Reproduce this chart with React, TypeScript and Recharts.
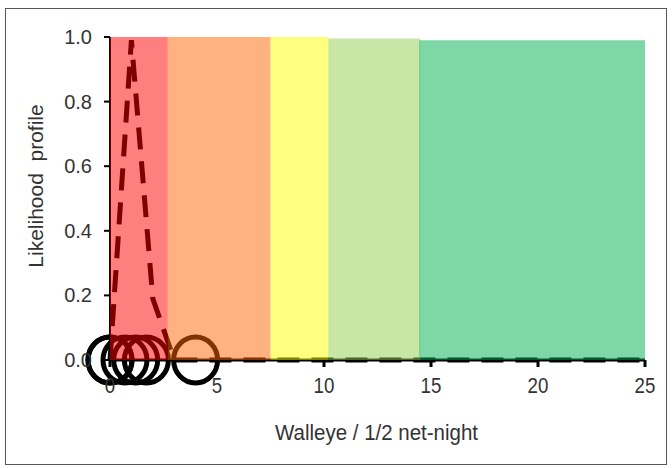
import { ComposedChart, Line, Scatter, XAxis, YAxis, ReferenceArea } from "recharts";

// likelihood profile (dashed line)
const profileX = [0, 1, 2, 3, 4, 5, 10, 15, 20, 25];
const profileY = [0, 0.99, 0.19, 0, 0, 0, 0, 0, 0, 0];

// observed catches (open circles on the x axis)
const obsX = [0, 0, 0.7, 1.2, 1.7, 4];

// status bands
const bandFrom = [0, 2.7, 7.5, 10.2, 14.45];
const bandTo = [2.7, 7.5, 10.2, 14.5, 25];
const bandTop = [1, 1, 1, 0.995, 0.99];
const bandColors = ["#ff0000", "#ff6600", "#ffff00", "#92d050", "#00b050"];

const xTicks = [0, 5, 10, 15, 20, 25];
const yTicks = [0, 0.2, 0.4, 0.6, 0.8, 1];

const font = "'Liberation Sans', Arial, sans-serif";

const lineData = profileX.map((x, i) => ({ x, y: profileY[i] }));
const obsData = obsX.map((x) => ({ x, y: 0 }));

const Ring = (props: any) => (
  <ellipse cx={props.cx} cy={props.cy} rx={22} ry={23} fill="none" stroke="#000" strokeWidth={5} />
);

const XTick = (props: any) => (
  <g transform={`translate(${props.x},${props.y}) scale(0.85,1)`}>
    <text x={0} y={8} textAnchor="middle" fill="#333" fontSize={22} fontFamily={font}>
      {props.payload.value}
    </text>
  </g>
);

const YTick = (props: any) => (
  <text x={92} y={props.y + 7} textAnchor="end" fill="#333" fontSize={20} fontFamily={font}>
    {props.payload.value.toFixed(1)}
  </text>
);

export default function App() {
  return (
    <div style={{ position: "absolute", left: 0, top: 0, width: 672, height: 468, background: "#fff" }}>
      <div
        style={{
          position: "absolute",
          left: 5,
          top: 8,
          width: 662,
          height: 457,
          border: "1px solid #555",
          boxSizing: "border-box",
        }}
      />
      <div style={{ position: "absolute", left: 0, top: 0 }}>
        <ComposedChart width={672} height={468} margin={{ top: 37, right: 27, bottom: 78, left: 50 }}>
          <XAxis
            type="number"
            dataKey="x"
            domain={[0, 25]}
            ticks={xTicks}
            interval={0}
            tickSize={7}
            tickMargin={18}
            height={30}
            stroke="#000"
            strokeWidth={3}
            tick={<XTick />}
            label={{
              content: (p: any) => (
                <text
                  x={p.viewBox.x + p.viewBox.width / 2 - 1}
                  y={440}
                  textAnchor="middle"
                  fill="#333"
                  fontSize={22}
                  fontFamily={font}
                  textLength={203}
                  lengthAdjust="spacingAndGlyphs"
                >
                  Walleye / 1/2 net-night
                </text>
              ),
            }}
          />
          <YAxis
            type="number"
            domain={[0, 1]}
            ticks={yTicks}
            interval={0}
            width={60}
            tickSize={6}
            stroke="#000"
            strokeWidth={2}
            tick={<YTick />}
            label={{
              content: () => (
                <text
                  x={43}
                  y={186}
                  textAnchor="middle"
                  fill="#333"
                  fontSize={21}
                  fontFamily={font}
                  transform="rotate(-90, 43, 186)"
                  style={{ whiteSpace: "pre" }}
                >
                  Likelihood  profile
                </text>
              ),
            }}
          />
          <Line
            data={lineData}
            dataKey="y"
            type="linear"
            stroke="#000"
            strokeWidth={5}
            strokeDasharray="22 12"
            dot={false}
            isAnimationActive={false}
          />
          <Scatter data={obsData} dataKey="y" shape={Ring} isAnimationActive={false} />
          {bandFrom.map((x1, i) => (
            <ReferenceArea
              key={i}
              x1={x1}
              x2={bandTo[i]}
              y1={0}
              y2={bandTop[i]}
              fill={bandColors[i]}
              fillOpacity={0.5}
              stroke="none"
              zIndex={700}
            />
          ))}
        </ComposedChart>
      </div>
    </div>
  );
}
